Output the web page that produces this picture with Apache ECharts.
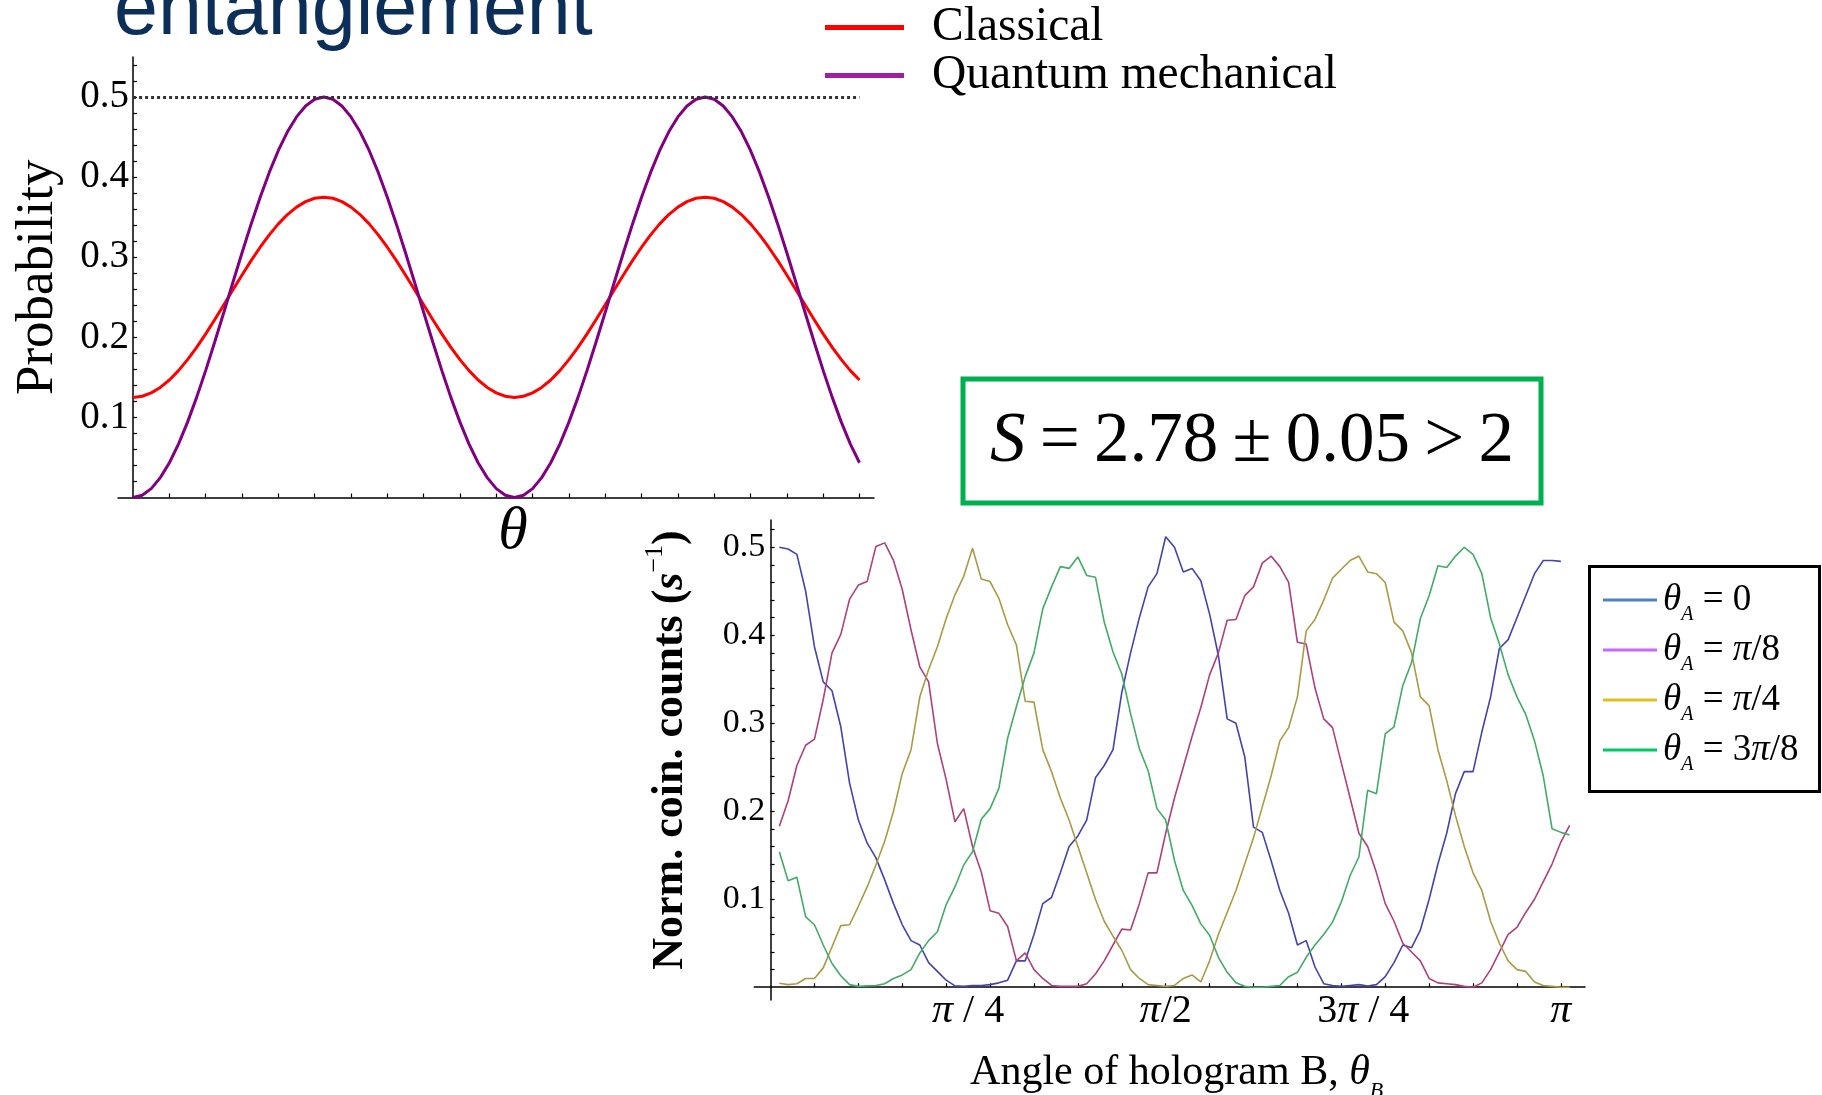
<!DOCTYPE html>
<html><head><meta charset="utf-8">
<style>html,body{margin:0;padding:0;background:#fff}#c{width:1822px;height:1095px}</style>
<script src="https://cdn.jsdelivr.net/npm/echarts@6/dist/echarts.min.js"></script>
</head><body><div id="c"></div>
<script>
// ---------- Top chart (theory) ----------
const topTheta = [0,0.05,0.1,0.15,0.2,0.25,0.3,0.35,0.4,0.45,0.5,0.55,0.6,0.65,0.7,0.75,0.8,0.85,0.9,0.95,1,1.05,1.1,1.15,1.2,1.25,1.3,1.35,1.4,1.45,1.5,1.55,1.6,1.65,1.7,1.75,1.8,1.85,1.9,1.95,2,2.05,2.1,2.15,2.2,2.25,2.3,2.35,2.4,2.45,2.5,2.55,2.6,2.65,2.7,2.75,2.8,2.85,2.9,2.95,3,3.05,3.1,3.15,3.2,3.25,3.3,3.35,3.4,3.45,3.5,3.55,3.6,3.65,3.7,3.75,3.8,3.85,3.9,3.95,4];
const classical = [0.125,0.1264,0.1306,0.1374,0.1467,0.1584,0.1721,0.1875,0.2043,0.2222,0.2407,0.2593,0.2778,0.2957,0.3125,0.3279,0.3416,0.3533,0.3626,0.3694,0.3736,0.375,0.3736,0.3694,0.3626,0.3533,0.3416,0.3279,0.3125,0.2957,0.2778,0.2593,0.2407,0.2222,0.2043,0.1875,0.1721,0.1584,0.1467,0.1374,0.1306,0.1264,0.125,0.1264,0.1306,0.1374,0.1467,0.1584,0.1721,0.1875,0.2043,0.2222,0.2407,0.2593,0.2778,0.2957,0.3125,0.3279,0.3416,0.3533,0.3626,0.3694,0.3736,0.375,0.3736,0.3694,0.3626,0.3533,0.3416,0.3279,0.3125,0.2957,0.2778,0.2593,0.2407,0.2222,0.2043,0.1875,0.1721,0.1584,0.1467];
const quantum = [0,0.0028,0.0111,0.0248,0.0434,0.0667,0.0941,0.125,0.1587,0.1944,0.2313,0.2687,0.3056,0.3413,0.375,0.4059,0.4333,0.4566,0.4752,0.4889,0.4972,0.5,0.4972,0.4889,0.4752,0.4566,0.4333,0.4059,0.375,0.3413,0.3056,0.2687,0.2313,0.1944,0.1587,0.125,0.0941,0.0667,0.0434,0.0248,0.0111,0.0028,0,0.0028,0.0111,0.0248,0.0434,0.0667,0.0941,0.125,0.1587,0.1944,0.2313,0.2687,0.3056,0.3413,0.375,0.4059,0.4333,0.4566,0.4752,0.4889,0.4972,0.5,0.4972,0.4889,0.4752,0.4566,0.4333,0.4059,0.375,0.3413,0.3056,0.2687,0.2313,0.1944,0.1587,0.125,0.0941,0.0667,0.0434];
const limitValue = 0.5;
const topXTicks = [0.2,0.4,0.6,0.8,1,1.2,1.4,1.6,1.8,2,2.2,2.4,2.6,2.8,3,3.2,3.4,3.6,3.8,4];
const topYTicks = [0.02,0.04,0.06,0.08,0.1,0.12,0.14,0.16,0.18,0.2,0.22,0.24,0.26,0.28,0.3,0.32,0.34,0.36,0.38,0.4,0.42,0.44,0.46,0.48,0.5,0.52,0.54];
const topYLabels = [0.1,0.2,0.3,0.4,0.5];

// ---------- Bottom chart (measured) ----------
const thetaB = [2,4,6,8,10,12,14,16,18,20,22,24,26,28,30,32,34,36,38,40,42,44,46,48,50,52,54,56,58,60,62,64,66,68,70,72,74,76,78,80,82,84,86,88,90,92,94,96,98,100,102,104,106,108,110,112,114,116,118,120,122,124,126,128,130,132,134,136,138,140,142,144,146,148,150,152,154,156,158,160,162,164,166,168,170,172,174,176,178,180,182];
const sA0 = [0.500,0.498,0.492,0.450,0.387,0.347,0.337,0.296,0.232,0.190,0.164,0.147,0.122,0.095,0.071,0.053,0.048,0.028,0.018,0.008,0.0015,0.001,0.002,0.002,0.003,0.005,0.008,0.030,0.030,
  0.060,0.095,0.102,0.130,0.160,0.172,0.190,0.238,0.252,0.270,0.335,0.380,0.420,0.455,0.470,0.512,0.500,0.472,0.476,0.462,0.424,0.377,0.305,0.300,0.262,0.182,0.176,0.144,0.110,0.084,0.048,0.053,0.023,0.004,0.002,0.001,0.002,0.003,0.0015,0.003,0.012,0.028,0.048,0.045,0.065,0.100,0.140,0.175,0.220,0.245,0.245,0.290,0.330,0.385,0.395,0.420,0.445,0.470,0.485,0.485,0.484];
const sA1 = [0.183,0.212,0.252,0.275,0.282,0.327,0.380,0.401,0.441,0.457,0.461,0.501,0.505,0.485,0.452,0.406,0.364,0.347,0.277,0.236,0.188,0.203,0.160,0.131,0.087,0.084,0.069,0.030,0.039,
  0.020,0.010,0.002,0.001,0.001,0.001,0.004,0.015,0.030,0.048,0.066,0.065,0.095,0.130,0.130,0.175,0.215,0.250,0.285,0.318,0.355,0.380,0.417,0.418,0.445,0.455,0.482,0.490,0.478,0.460,0.392,0.390,0.340,0.305,0.295,0.255,0.215,0.175,0.160,0.130,0.095,0.075,0.050,0.040,0.030,0.010,0.005,0.004,0.003,0.001,0.000,0.005,0.020,0.040,0.060,0.068,0.085,0.100,0.120,0.140,0.165,0.184];
const sA2 = [0.0045,0.003,0.004,0.010,0.010,0.022,0.046,0.070,0.071,0.092,0.114,0.139,0.166,0.200,0.243,0.270,0.330,0.361,0.387,0.419,0.446,0.467,0.499,0.464,0.461,0.442,0.412,0.389,0.325,
  0.324,0.270,0.245,0.215,0.190,0.160,0.130,0.100,0.075,0.058,0.042,0.020,0.010,0.003,0.002,0.001,0.002,0.010,0.014,0.006,0.030,0.060,0.085,0.110,0.140,0.170,0.205,0.240,0.280,0.295,0.330,0.405,0.418,0.440,0.465,0.475,0.485,0.490,0.472,0.470,0.460,0.415,0.405,0.380,0.330,0.320,0.270,0.235,0.195,0.160,0.130,0.110,0.075,0.050,0.030,0.020,0.018,0.006,0.002,0.001,0.000,0.000];
const sA3 = [0.154,0.121,0.125,0.080,0.071,0.048,0.027,0.013,0.003,0.001,0.0015,0.002,0.004,0.010,0.014,0.020,0.039,0.053,0.063,0.094,0.114,0.139,0.154,0.191,0.203,0.226,0.283,0.319,0.353,
  0.380,0.430,0.455,0.478,0.476,0.489,0.468,0.466,0.415,0.381,0.356,0.311,0.271,0.246,0.203,0.190,0.144,0.110,0.093,0.072,0.059,0.034,0.017,0.005,0.001,0.000,0.000,0.001,0.002,0.012,0.017,0.034,0.048,0.060,0.074,0.097,0.127,0.148,0.224,0.220,0.288,0.296,0.343,0.369,0.419,0.445,0.479,0.477,0.490,0.500,0.492,0.470,0.420,0.390,0.355,0.330,0.310,0.280,0.240,0.180,0.176,0.173];
const botXTicks = [10,20,30,40,50,60,70,80,90,100,110,120,130,140,150,160,170,180];
const botXLabels = [45,90,135,180];
const botYTicks = [0.02,0.04,0.06,0.08,0.1,0.12,0.14,0.16,0.18,0.2,0.22,0.24,0.26,0.28,0.3,0.32,0.34,0.36,0.38,0.4,0.42,0.44,0.46,0.48,0.5,0.52];
const botYLabels = [0.1,0.2,0.3,0.4,0.5];
const seriesNames = ['θA = 0','θA = π/8','θA = π/4','θA = 3π/8'];
const seriesColors = ['#4343ad','#ad417b','#aa9a45','#43aa68'];
const legendColors = ['#4f81c2','#cc66ff','#e0c020','#00c864'];
const legendRich = ['{t|θ}{s|A}{n| = 0}','{t|θ}{s|A}{n| = }{t|π}{n|/8}','{t|θ}{s|A}{n| = }{t|π}{n|/4}','{t|θ}{s|A}{n| = 3}{t|π}{n|/8}'];

const SERIF = 'Liberation Serif';
const chart = echarts.init(document.getElementById('c'));
const pair = (xs, ys) => xs.map((x, i) => [x, ys[i]]);
const botSets = [sA0, sA1, sA2, sA3];

const option = {
  animation: false,
  backgroundColor: '#fff',
  grid: [
    {left: 118, top: 57, width: 756, height: 440.5, outerBoundsMode: 'none', containLabel: false},
    {left: 754.3, top: 520, width: 830.7, height: 480, outerBoundsMode: 'none', containLabel: false}
  ],
  xAxis: [
    {gridIndex: 0, type: 'value', min: -0.083, max: 4.08,
     axisLine: {onZero: true, lineStyle: {color: '#000', width: 1.5}},
     axisTick: {show: true, inside: true, length: 4, customValues: topXTicks, lineStyle: {color: '#000', width: 1.2}},
     axisLabel: {show: false}, splitLine: {show: false},
     name: 'θ', nameLocation: 'middle', nameGap: 5,
     nameTextStyle: {fontFamily: SERIF, fontStyle: 'italic', fontSize: 60, color: '#000', padding: [0, 0, 0, 34]}},
    {gridIndex: 1, type: 'value', min: -3.7, max: 185.5,
     axisLine: {onZero: true, lineStyle: {color: '#000', width: 1.5}},
     axisTick: {show: true, inside: true, length: 4, customValues: botXTicks, lineStyle: {color: '#000', width: 1.2}},
     axisLabel: {show: true, customValues: botXLabels, margin: -10,
       formatter: v => ({45: '{i|π}{n| / 4}', 90: '{i|π}{n|/2}', 135: '{n|3}{i|π}{n| / 4}', 180: '{i|π}'})[Math.round(v)] || '',
       rich: {i: {fontFamily: SERIF, fontStyle: 'italic', fontSize: 42, color: '#000'}, n: {fontFamily: SERIF, fontSize: 40, color: '#000'}}},
     splitLine: {show: false},
     name: '{n|Angle of hologram B, }{i|θ}{s|B}', nameLocation: 'middle', nameGap: 52,
     nameTextStyle: {padding: [0, 0, 0, 14],
       rich: {n: {fontFamily: SERIF, fontSize: 42, color: '#000'}, i: {fontFamily: SERIF, fontStyle: 'italic', fontSize: 42, color: '#000'}, s: {fontFamily: SERIF, fontStyle: 'italic', fontSize: 22, color: '#000', verticalAlign: 'bottom', padding: [0, 0, -8, 0]}}}}
  ],
  yAxis: [
    {gridIndex: 0, type: 'value', min: 0, max: 0.55,
     axisLine: {show: true, onZero: true, lineStyle: {color: '#000', width: 1.5}},
     axisTick: {show: true, inside: true, length: 4, customValues: topYTicks, lineStyle: {color: '#000', width: 1.2}},
     axisLabel: {show: true, customValues: topYLabels, margin: -11, formatter: v => v.toFixed(1),
       fontFamily: SERIF, fontSize: 39, color: '#000'},
     splitLine: {show: false},
     name: 'Probability', nameLocation: 'middle', nameGap: 53,
     nameTextStyle: {fontFamily: SERIF, fontSize: 53, color: '#000'}},
    {gridIndex: 1, type: 'value', min: -0.0145, max: 0.531,
     axisLine: {show: true, onZero: true, lineStyle: {color: '#000', width: 1.5}},
     axisTick: {show: true, inside: true, length: 4, customValues: botYTicks, lineStyle: {color: '#000', width: 1.2}},
     axisLabel: {show: true, customValues: botYLabels, margin: -11, formatter: v => v.toFixed(1),
       fontFamily: SERIF, fontSize: 34, color: '#000'},
     splitLine: {show: false},
     name: '{b|Norm. coin. counts (}{i|s}{p|−1}{b|)}', nameLocation: 'middle', nameGap: 62,
     nameTextStyle: {padding: [0, 0, 0, 20],
       rich: {b: {fontFamily: SERIF, fontWeight: 'bold', fontSize: 44, color: '#000'}, i: {fontFamily: SERIF, fontStyle: 'italic', fontWeight: 'bold', fontSize: 44, color: '#000'}, p: {fontFamily: SERIF, fontSize: 26, color: '#000', verticalAlign: 'top', padding: [-6, 0, 0, 0]}}}}
  ],
  legend: [
    {orient: 'vertical', left: 820, top: -1.4, itemWidth: 79, itemHeight: 5, icon: 'rect', itemGap: 0,
     data: [{name: 'Classical', itemStyle: {color: '#ff0000'}}, {name: 'Quantum mechanical', itemStyle: {color: '#a01ea0'}}],
     textStyle: {fontFamily: SERIF, fontSize: 47.5, color: '#000', lineHeight: 44, padding: [0, 0, 0, 23]}},
    {orient: 'vertical', left: 1598, top: 574, itemWidth: 54, itemHeight: 3, icon: 'rect', itemGap: 4,
     data: seriesNames.map((n, i) => ({name: n, itemStyle: {color: legendColors[i]}})),
     formatter: name => legendRich[seriesNames.indexOf(name)],
     textStyle: {lineHeight: 42, padding: [0, 0, 0, 1],
       rich: {t: {fontFamily: SERIF, fontStyle: 'italic', fontSize: 37, color: '#000'},
              s: {fontFamily: SERIF, fontStyle: 'italic', fontSize: 20, color: '#000', verticalAlign: 'bottom', padding: [0, 0, -4, 0]},
              n: {fontFamily: SERIF, fontSize: 37, color: '#000'}}}}
  ],
  graphic: [
    {type: 'text', x: 114, y: 12, style: {text: 'entanglement', fontFamily: 'Liberation Sans', fontSize: 79, fill: '#0b2f58', align: 'left', verticalAlign: 'middle'}},
    {type: 'rect', shape: {x: 963, y: 379, width: 578, height: 124}, style: {fill: 'none', stroke: '#00b050', lineWidth: 5}},
    {type: 'text', x: 1252, y: 442, style: {text: '{i|S}{n|\u2009=\u20092.78\u2009±\u20090.05\u2009>\u20092}', align: 'center', verticalAlign: 'middle',
      rich: {i: {fontFamily: SERIF, fontStyle: 'italic', fontSize: 71, fill: '#000'}, n: {fontFamily: SERIF, fontSize: 71, fill: '#000'}}}},
    {type: 'rect', shape: {x: 1589.5, y: 566.5, width: 230, height: 225}, style: {fill: 'none', stroke: '#000', lineWidth: 3}}
  ],
  series: [
    {name: 'Classical', type: 'line', xAxisIndex: 0, yAxisIndex: 0, data: pair(topTheta, classical), showSymbol: false, symbol: 'none',
     lineStyle: {color: '#ff0000', width: 3}, itemStyle: {color: '#ff0000'}},
    {name: 'Quantum mechanical', type: 'line', xAxisIndex: 0, yAxisIndex: 0, data: pair(topTheta, quantum), showSymbol: false, symbol: 'none',
     lineStyle: {color: '#800080', width: 3}, itemStyle: {color: '#800080'},
     markLine: {silent: true, symbol: ['none', 'none'], label: {show: false},
       lineStyle: {type: [3, 3], color: '#333', width: 3},
       data: [[{coord: [0, limitValue]}, {coord: [4.0, limitValue]}]]}},
    ...botSets.map((arr, i) => ({name: seriesNames[i], type: 'line', xAxisIndex: 1, yAxisIndex: 1, data: pair(thetaB, arr),
      showSymbol: false, symbol: 'none', lineStyle: {color: seriesColors[i], width: 1.6}, itemStyle: {color: seriesColors[i]}}))
  ]
};
chart.setOption(option);
</script></body></html>
